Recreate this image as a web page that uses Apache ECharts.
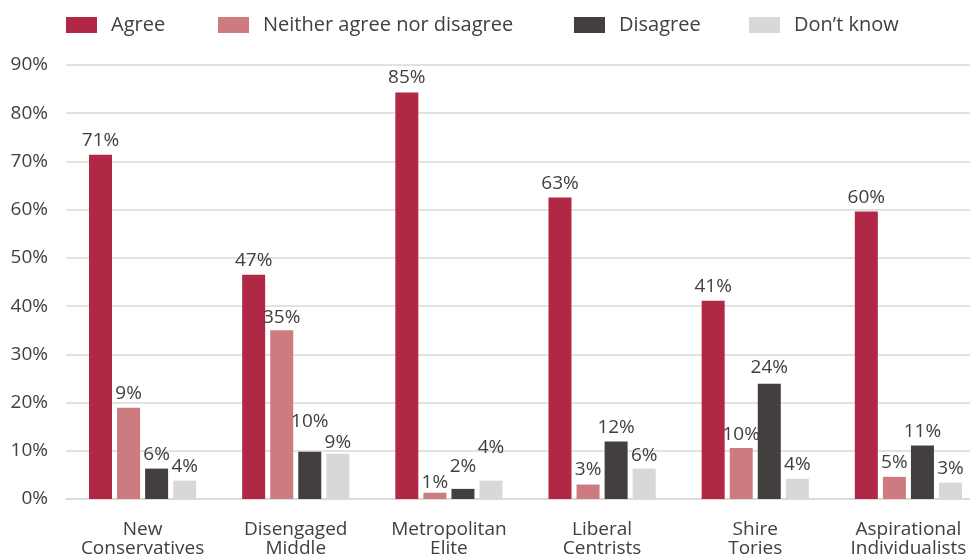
<!DOCTYPE html>
<html><head><meta charset="utf-8">
<script src="https://cdn.jsdelivr.net/npm/echarts@6/dist/echarts.min.js"></script>
<style>html,body{margin:0;padding:0;background:#fff;overflow:hidden;width:970px;height:558px}#c{width:985px;height:558px}</style>
</head><body><div id="c"></div>
<script>
const categories = ['New\nConservatives','Disengaged\nMiddle','Metropolitan\nElite','Liberal\nCentrists','Shire\nTories','Aspirational\nIndividualists'];
const seriesNames = ['Agree','Neither agree nor disagree','Disagree','Don\u2019t know'];
const agree    = [71.4, 46.5, 84.3, 62.5, 41.1, 59.6];
const neither  = [18.9, 35.0, 1.3, 3.0, 10.6, 4.6];
const disagree = [6.3, 9.8, 2.1, 11.9, 23.9, 11.1];
const dontKnow = [3.8, 9.4, 3.8, 6.3, 4.2, 3.4];
const agreeLabels    = ['71%','47%','85%','63%','41%','60%'];
const neitherLabels  = ['9%','35%','1%','3%','10%','5%'];
const disagreeLabels = ['6%','10%','2%','12%','24%','11%'];
const dontKnowLabels = ['4%','9%','4%','6%','4%','3%'];
const yTicks = [0,10,20,30,40,50,60,70,80,90];

// styling
const colors = ['#b12746','#cd7b80','#423f3e','#d9d7d8'];
const legendLeft = [66, 218, 574, 749];
// extra vertical label shift (px, negative = up) to avoid overlaps, as in the original
const labelShift = [
  [0,0,0,0,0,0],
  [0,2,4,0,1,0],
  [0,-16,-8,0,-2,1],
  [0,3,-19,1,0,0]
];
const values = [agree, neither, disagree, dontKnow];
const labels = [agreeLabels, neitherLabels, disagreeLabels, dontKnowLabels];
const FONT = '"Open Sans", "Noto Sans", sans-serif';
const TXT = '#404040';

const chart = echarts.init(document.getElementById('c'));
chart.setOption({
  animation: false,
  textStyle: {fontFamily: FONT},
  legend: seriesNames.map((n, i) => ({
    top: 15, left: legendLeft[i], padding: 0,
    itemWidth: 31, itemHeight: 16,
    icon: 'rect',
    textStyle: {fontFamily: FONT, fontSize: 20, color: TXT, padding: [0,0,0,9]},
    data: [n]
  })),
  grid: {left: 66, right: 0, top: 65, bottom: 59, containLabel: false},
  xAxis: {
    type: 'category', data: categories,
    axisTick: {show: false},
    axisLine: {lineStyle: {color: '#d9d9d9', width: 1.5}},
    axisLabel: {fontFamily: FONT, fontSize: 19, color: TXT, lineHeight: 19, margin: 21, interval: 0}
  },
  yAxis: {
    type: 'value', min: yTicks[0], max: yTicks[yTicks.length-1], interval: 10,
    axisLabel: {fontFamily: FONT, fontSize: 19, color: TXT, margin: 18, formatter: v => v + '%'},
    splitLine: {lineStyle: {color: '#d9d9d9', width: 1.5}},
    axisLine: {show: false}, axisTick: {show: false}
  },
  series: seriesNames.map((n, i) => ({
    name: n, type: 'bar', barWidth: 23, barGap: '22%',
    itemStyle: {color: colors[i]},
    label: {show: true, position: 'top', distance: 5, fontFamily: FONT, fontSize: 19, color: TXT,
      formatter: p => labels[i][p.dataIndex]},
    data: values[i].map((v, j) => ({value: v, label: {offset: [0, labelShift[i][j]]}}))
  }))
});
</script></body></html>
